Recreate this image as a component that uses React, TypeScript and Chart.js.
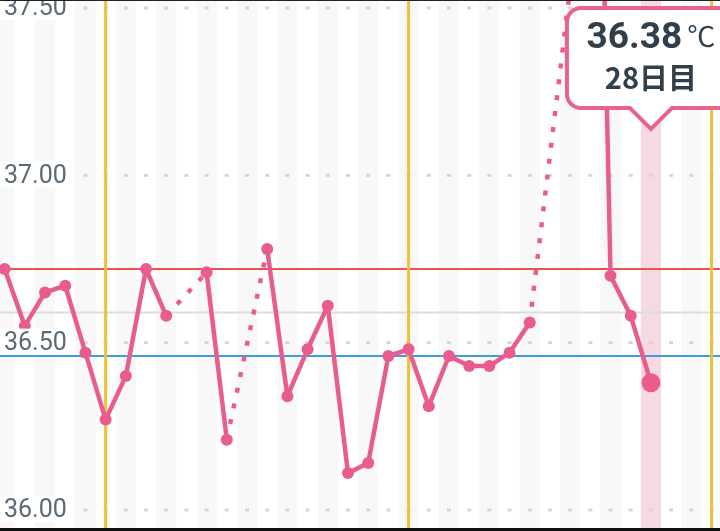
import React, { useEffect, useRef } from "react";
import { Chart, registerables } from "chart.js";

Chart.register(...registerables);

// Day number within the cycle (negative = previous cycle tail)
const days = [-4, -3, -2, -1, 0, 1, 2, 3, 4, 5, 6, 7, 8, 9, 10, 11, 12, 13, 14, 15, 16, 17, 18, 19, 20, 21, 22, 23, 24, 25, 26, 27, 28];
// Basal body temperature (℃); null = not recorded
const temps: (number | null)[] = [
  36.72, 36.55, 36.65, 36.67, 36.47, 36.27, 36.40, 36.72, 36.58, null, 36.71, 36.21, null, 36.78,
  36.34, 36.48, 36.61, 36.11, 36.14, 36.46, 36.48, 36.31, 36.46, 36.43, 36.43, 36.47, 36.56, null,
  37.56, 39.5, 36.70, 36.58, 36.38,
];
const yTickValues = [36.0, 36.5, 37.0, 37.5];
const cycleMarkerDays = [1, 16, 31];
const highLine = 36.72;
const midLine = 36.59;
const lowLine = 36.46;
const selectedDay = 28;
const xRange = [-4.23, 31.42];
const yRange = [35.937, 37.524];

const PINK = "#e95d8e";

const decorPlugin = {
  id: "decor",
  beforeDatasetsDraw(chart: any) {
    const { ctx, chartArea: a, scales } = chart;
    const x = scales.x;
    const y = scales.y;
    ctx.save();
    // alternating column stripes + selected column
    for (let d = Math.floor(x.min); d <= Math.ceil(x.max); d++) {
      const l = x.getPixelForValue(d - 0.5);
      const r = x.getPixelForValue(d + 0.5);
      if (d === selectedDay) {
        ctx.fillStyle = "#f6d9e2";
        ctx.fillRect(l, a.top, r - l, a.bottom - a.top);
      } else if (d % 2 === 0) {
        ctx.fillStyle = "#f8f8f8";
        ctx.fillRect(l, a.top, r - l, a.bottom - a.top);
      }
    }
    // dotted grid at ticks
    ctx.fillStyle = "#d6d6d6";
    for (const v of yTickValues) {
      const py = y.getPixelForValue(v);
      for (let d = Math.floor(x.min); d <= Math.ceil(x.max); d++) {
        const px = x.getPixelForValue(d);
        ctx.fillRect(px - 2, py - 1.5, 4, 3);
      }
    }
    // reference lines
    const hline = (v: number, color: string, w: number) => {
      const py = y.getPixelForValue(v);
      ctx.strokeStyle = color;
      ctx.lineWidth = w;
      ctx.beginPath();
      ctx.moveTo(a.left, py);
      ctx.lineTo(a.right, py);
      ctx.stroke();
    };
    hline(midLine, "#dddddd", 2);
    hline(highLine, "#e8554f", 2);
    hline(lowLine, "#3a9fdc", 2);
    // cycle marker verticals
    ctx.strokeStyle = "#efc135";
    ctx.lineWidth = 3;
    for (const d of cycleMarkerDays) {
      const px = x.getPixelForValue(d);
      ctx.beginPath();
      ctx.moveTo(px, a.top);
      ctx.lineTo(px, a.bottom);
      ctx.stroke();
    }
    ctx.restore();
  },
  afterDatasetsDraw(chart: any) {
    const { ctx, scales } = chart;
    const y = scales.y;
    ctx.save();
    // y labels with white backdrop
    ctx.font = "25px Roboto";
    ctx.textBaseline = "middle";
    ctx.textAlign = "left";
    for (const v of yTickValues) {
      const py = y.getPixelForValue(v);
      const label = v.toFixed(2);
      const w = ctx.measureText(label).width;
      ctx.fillStyle = "#ffffff";
      ctx.fillRect(0, py - 14, w + 10, 26);
      ctx.fillStyle = "#5a6a75";
      ctx.fillText(label, 4, py + 1);
    }
    ctx.restore();
  },
  afterDraw(chart: any) {
    const { ctx } = chart;
    ctx.save();
    // tooltip for selected day
    const idx = days.indexOf(selectedDay);
    const meta = chart.getDatasetMeta(0);
    const pt = meta.data[idx];
    const px = pt.x;
    const left = px - 84;
    const right = px + 84;
    const top = 8;
    const bottom = 108;
    const r = 14;
    ctx.beginPath();
    ctx.moveTo(left + r, top);
    ctx.lineTo(right - r, top);
    ctx.arcTo(right, top, right, top + r, r);
    ctx.lineTo(right, bottom - r);
    ctx.arcTo(right, bottom, right - r, bottom, r);
    ctx.lineTo(px + 21, bottom);
    ctx.lineTo(px, bottom + 21);
    ctx.lineTo(px - 21, bottom);
    ctx.lineTo(left + r, bottom);
    ctx.arcTo(left, bottom, left, bottom - r, r);
    ctx.lineTo(left, top + r);
    ctx.arcTo(left, top, left + r, top, r);
    ctx.closePath();
    ctx.fillStyle = "#ffffff";
    ctx.fill();
    ctx.strokeStyle = "#e8638f";
    ctx.lineWidth = 4;
    ctx.stroke();

    const val = (temps[idx] as number).toFixed(2);
    ctx.textBaseline = "alphabetic";
    ctx.fillStyle = "#303f49";
    ctx.font = "bold 37px Roboto";
    const w1 = ctx.measureText(val).width;
    ctx.font = "28px 'Noto Sans CJK JP'";
    const unit = "℃";
    const w2 = ctx.measureText(unit).width;
    const gap = 5;
    const start = px - (w1 + gap + w2) / 2;
    ctx.font = "bold 37px Roboto";
    ctx.textAlign = "left";
    ctx.fillText(val, start, top + 40);
    ctx.font = "28px 'Noto Sans CJK JP'";
    ctx.fillText(unit, start + w1 + gap, top + 39);
    ctx.font = "bold 29px 'Noto Sans CJK JP'";
    ctx.textAlign = "center";
    ctx.fillText(`${selectedDay}日目`, px, top + 81);

    // screen edges
    ctx.fillStyle = "#222";
    ctx.fillRect(0, 0, chart.width, 1);
    ctx.fillStyle = "#111";
    ctx.fillRect(0, chart.height - 3, chart.width, 3);
    ctx.restore();
  },
};

export default function App() {
  const ref = useRef<HTMLCanvasElement | null>(null);
  useEffect(() => {
    if (!ref.current) return;
    const selIdx = days.indexOf(selectedDay);
    const chart = new Chart(ref.current, {
      type: "line",
      data: {
        datasets: [
          {
            data: days.map((d, i) => ({ x: d, y: temps[i] })) as any,
            borderColor: PINK,
            backgroundColor: PINK,
            borderWidth: 4.5,
            borderJoinStyle: "round",
            pointRadius: days.map((_, i) => (i === selIdx ? 9.5 : 6)),
            pointBorderWidth: 0,
            pointBackgroundColor: PINK,
            tension: 0,
            spanGaps: true,
            segment: {
              borderDash: (c: any) => (c.p0.skip || c.p1.skip ? [5, 11] : undefined),
            },
          },
        ],
      },
      options: {
        responsive: false,
        animation: false,
        layout: { padding: 0, autoPadding: false },
        plugins: { legend: { display: false }, tooltip: { enabled: false } },
        scales: {
          x: { type: "linear", display: false, min: xRange[0], max: xRange[1] },
          y: { type: "linear", display: false, min: yRange[0], max: yRange[1] },
        },
      },
      plugins: [decorPlugin],
    });
    return () => chart.destroy();
  }, []);
  return (
    <div style={{ position: "absolute", left: 0, top: 0, width: 720, height: 531, background: "#fff" }}>
      <canvas ref={ref} width={720} height={531} style={{ display: "block" }} />
    </div>
  );
}
